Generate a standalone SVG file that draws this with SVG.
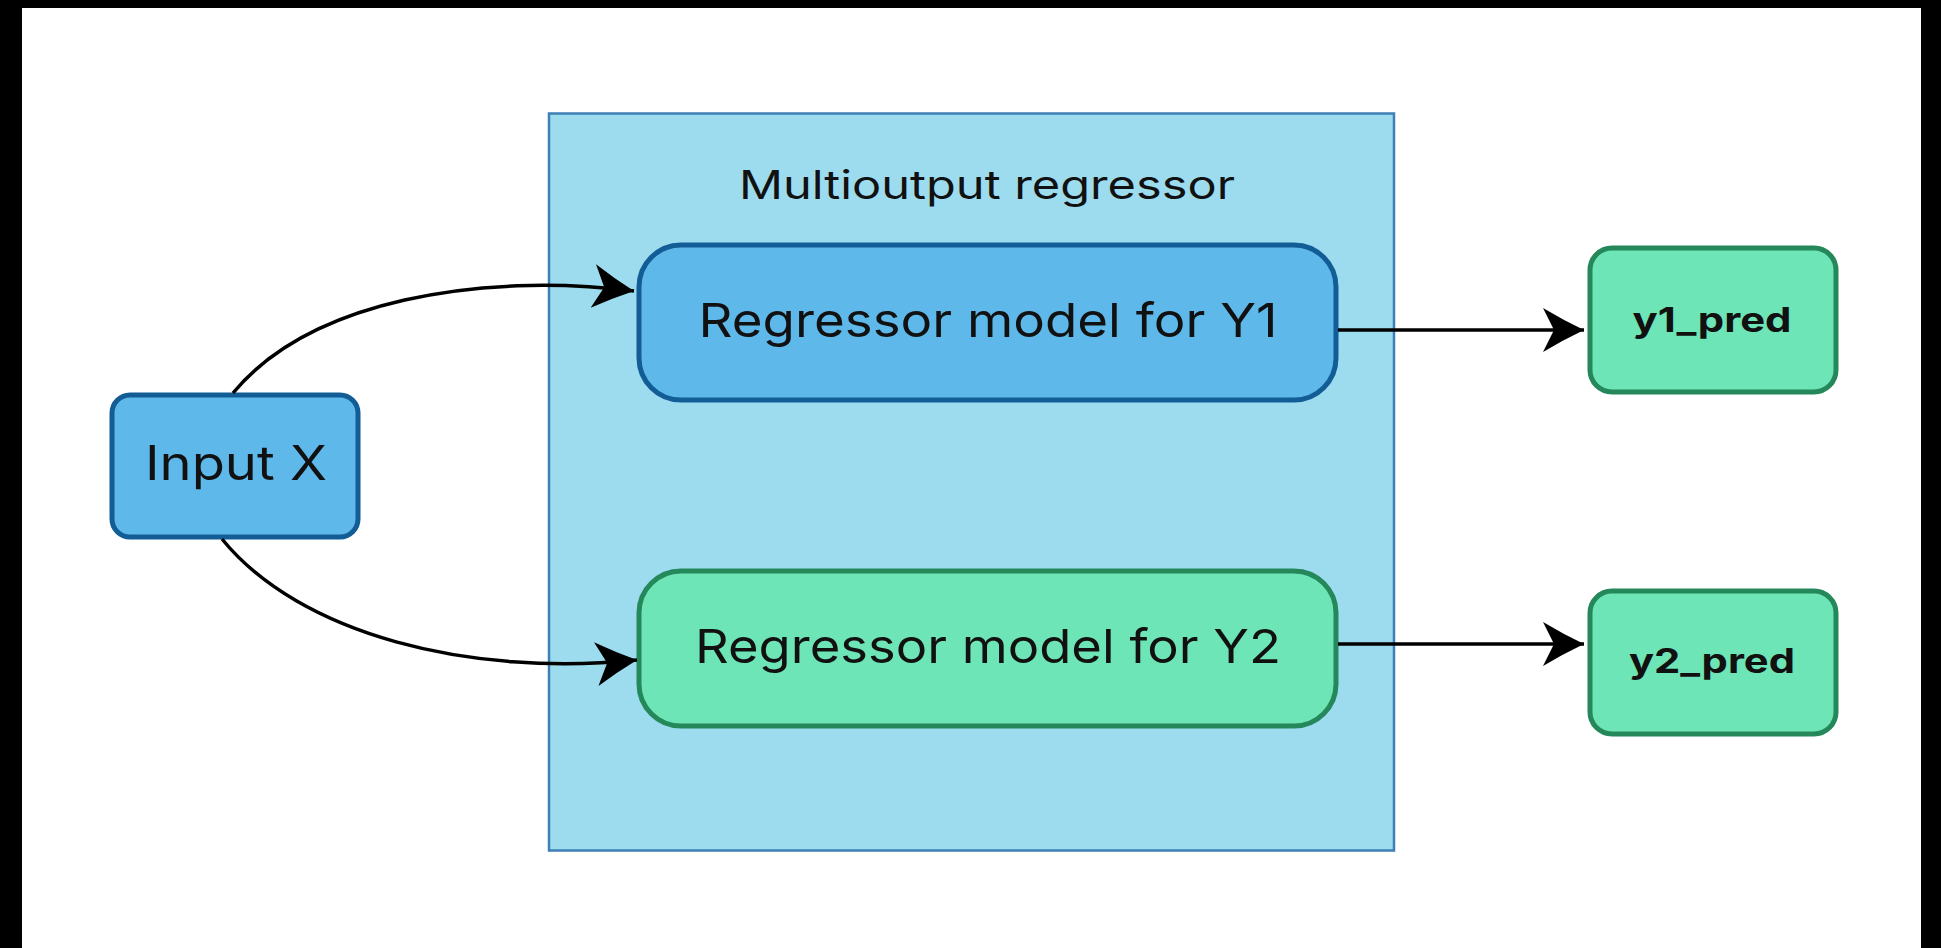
<svg xmlns="http://www.w3.org/2000/svg" width="1941" height="948" viewBox="0 0 1941 948">
  <style>
    .lbl { font-family: Inter, "Noto Sans", "Liberation Sans", sans-serif; fill: #111; text-anchor: middle; }
    .blue { fill: #5fb8ea; stroke: #135d96; stroke-width: 5; }
    .green { fill: #6ee5b6; stroke: #25885b; stroke-width: 5; }
    .edge { fill: none; stroke: #000; stroke-width: 3.5; marker-end: url(#arrow); }
  </style>
  <defs>
    <marker id="arrow" viewBox="0 -24 42 48" refX="41" refY="0" markerWidth="42" markerHeight="48" markerUnits="userSpaceOnUse" orient="auto">
      <path d="M0,-22 Q20,-10 41,0 Q20,10 0,22 L11,0 Z" fill="#000"/>
    </marker>
  </defs>
  <rect x="0" y="0" width="1941" height="948" fill="#fff"/>
  <g id="frame">
    <rect x="0" y="0" width="1941" height="8" fill="#000"/>
    <rect x="0" y="0" width="22" height="948" fill="#000"/>
    <rect x="1921" y="0" width="20" height="948" fill="#000"/>
  </g>
  <g id="container">
    <rect x="549" y="113.5" width="845" height="737" fill="#9ddcef" stroke="#3d7fb6" stroke-width="2.5"/>
    <text class="lbl" x="987" y="199" font-size="39" textLength="496" lengthAdjust="spacingAndGlyphs">Multioutput regressor</text>
  </g>
  <g id="input-x">
    <rect class="blue" x="112" y="395" width="246" height="142" rx="18"/>
    <text class="lbl" x="236" y="480" font-size="48" textLength="182" lengthAdjust="spacingAndGlyphs">Input X</text>
  </g>
  <g id="model-y1">
    <rect class="blue" x="639" y="245" width="697" height="155" rx="42"/>
    <text class="lbl" x="988" y="337" font-size="47" textLength="579" lengthAdjust="spacingAndGlyphs">Regressor model for Y1</text>
  </g>
  <g id="model-y2">
    <rect class="green" x="639" y="571" width="697" height="155" rx="42"/>
    <text class="lbl" x="988" y="663" font-size="47" textLength="586" lengthAdjust="spacingAndGlyphs">Regressor model for Y2</text>
  </g>
  <g id="y1-pred">
    <rect class="green" x="1590" y="248" width="246" height="144" rx="22"/>
    <text class="lbl" x="1712" y="332" font-size="34" font-weight="bold" textLength="159" lengthAdjust="spacingAndGlyphs">y1_pred</text>
  </g>
  <g id="y2-pred">
    <rect class="green" x="1590" y="591" width="246" height="143" rx="22"/>
    <text class="lbl" x="1712" y="673" font-size="34" font-weight="bold" textLength="166" lengthAdjust="spacingAndGlyphs">y2_pred</text>
  </g>
  <g id="connectors">
    <path class="edge" d="M233,393 C310,300 480,272 634,291"/>
    <path class="edge" d="M222,539 C300,635 470,677 637,660"/>
    <path class="edge" d="M1338,330 L1584,330"/>
    <path class="edge" d="M1338,644 L1584,644"/>
  </g>
</svg>
